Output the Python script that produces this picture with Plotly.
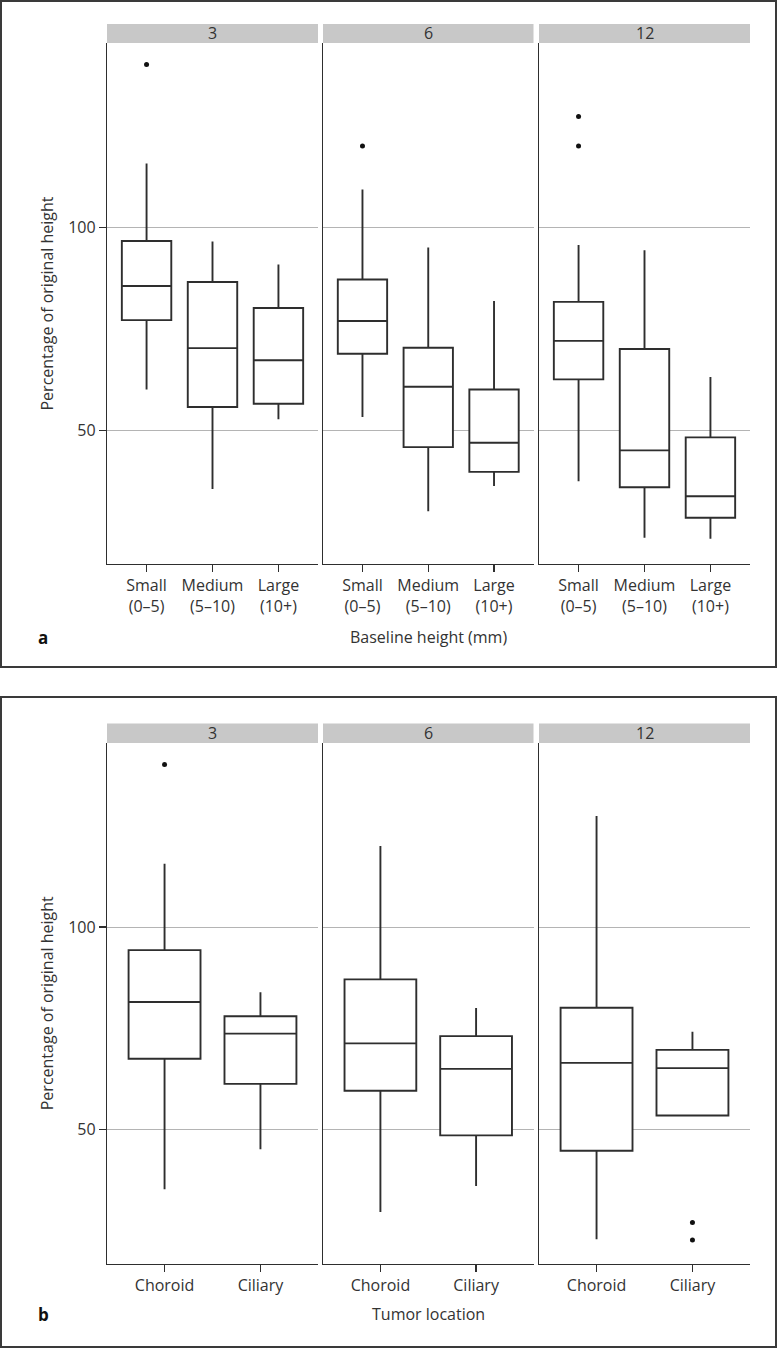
import plotly.graph_objects as go

months = ["3", "6", "12"]
size_cats = ["Small<br>(0–5)", "Medium<br>(5–10)", "Large<br>(10+)"]
loc_cats = ["Choroid", "Ciliary"]

# Panel a (by baseline height) — one inner list per month (3, 6, 12)
a_lower = [[60.0, 35.5, 52.7], [53.2, 30.0, 36.2], [37.4, 23.5, 23.2]]
a_q1 = [[77.1, 55.7, 56.5], [68.8, 45.8, 39.7], [62.5, 35.9, 28.4]]
a_median = [[85.5, 70.2, 67.2], [76.9, 60.7, 46.9], [72.0, 45.0, 33.7]]
a_q3 = [[96.6, 86.5, 80.1], [87.1, 70.3, 60.0], [81.6, 70.0, 48.2]]
a_upper = [[115.7, 96.5, 90.8], [109.3, 95.0, 81.8], [95.6, 94.3, 63.1]]
a_out_x = [[size_cats[0]], [size_cats[0]], [size_cats[0], size_cats[0]]]
a_out_y = [[140.1], [120.0], [127.3, 120.0]]

# Panel b (by tumor location)
b_lower = [[35.3, 45.2], [29.7, 36.1], [23.0, 53.5]]
b_q1 = [[67.5, 61.3], [59.6, 48.6], [44.8, 53.5]]
b_median = [[81.5, 73.7], [71.3, 65.0], [66.5, 65.2]]
b_q3 = [[94.3, 78.0], [87.1, 73.1], [80.1, 69.7]]
b_upper = [[115.6, 83.9], [120.0, 80.0], [127.4, 74.2]]
b_out_x = [[loc_cats[0]], [], [loc_cats[1], loc_cats[1]]]
b_out_y = [[140.1], [], [27.1, 22.8]]

y_ticks = [50, 100]
y_range = [17.0, 145.4]

W, H = 778, 1349
FONT = "Open Sans"
FS = 16
TXT = "#333333"
LINE = "#2e2e2e"


def fx(px):
    return px / W


def fy(px):
    return 1 - px / H


facet_x = [(107, 318), (323, 533.5), (539, 750)]
panel_plot_y = [(43, 564), (743, 1263.5)]
panel_strip_y = [(24, 43), (723.5, 743)]
panel_border = [(1, 1, 776, 667), (1, 697, 776, 1347)]

fig = go.Figure()
layout = dict(
    width=W, height=H, margin=dict(l=0, r=0, t=0, b=0),
    paper_bgcolor="white", plot_bgcolor="white", showlegend=False,
    font=dict(family=FONT, size=FS, color=TXT),
)
shapes = []
annotations = []

panels = [
    (size_cats, a_lower, a_q1, a_median, a_q3, a_upper, a_out_x, a_out_y),
    (loc_cats, b_lower, b_q1, b_median, b_q3, b_upper, b_out_x, b_out_y),
]

for r, (cats, lo, q1, md, q3, up, ox, oy) in enumerate(panels):
    for c, m in enumerate(months):
        idx = r * 3 + c + 1
        xa = "x" if idx == 1 else f"x{idx}"
        ya = "y" if idx == 1 else f"y{idx}"
        fig.add_trace(go.Box(
            x=cats, q1=q1[c], median=md[c], q3=q3[c],
            lowerfence=lo[c], upperfence=up[c],
            boxpoints=False, width=0.75, whiskerwidth=0,
            fillcolor="white", line=dict(color=LINE, width=1.9),
            xaxis=xa, yaxis=ya, hoverinfo="skip",
        ))
        if oy[c]:
            fig.add_trace(go.Scatter(
                x=ox[c], y=oy[c], mode="markers",
                marker=dict(color="#111111", size=5),
                xaxis=xa, yaxis=ya, hoverinfo="skip",
            ))
        x0, x1 = facet_x[c]
        yt, yb = panel_plot_y[r]
        n = len(cats)
        layout[f"xaxis{'' if idx == 1 else idx}"] = dict(
            domain=[fx(x0), fx(x1)], anchor=ya,
            type="category", categoryorder="array", categoryarray=cats,
            range=[-0.6, n - 1 + 0.6],
            showline=True, linecolor=LINE, linewidth=1.2,
            ticks="outside", ticklen=7, tickcolor=LINE, tickwidth=1.2,
            showgrid=False, zeroline=False,
            tickfont=dict(family=FONT, size=FS, color=TXT),
            fixedrange=True,
        )
        layout[f"yaxis{'' if idx == 1 else idx}"] = dict(
            domain=[fy(yb), fy(yt)], anchor=xa,
            range=y_range, tickvals=y_ticks,
            showline=True, linecolor=LINE, linewidth=1.2,
            ticks="outside" if c == 0 else "", ticklen=7, tickcolor=LINE, tickwidth=1.2,
            showticklabels=(c == 0),
            showgrid=True, gridcolor="#b4b4b4", gridwidth=1,
            zeroline=False,
            tickfont=dict(family=FONT, size=FS, color=TXT),
            fixedrange=True,
        )
        # strip
        st, sb = panel_strip_y[r]
        shapes.append(dict(type="rect", xref="paper", yref="paper",
                           x0=fx(x0), x1=fx(x1), y0=fy(sb), y1=fy(st),
                           fillcolor="#c8c8c8", line=dict(width=0), layer="below"))
        annotations.append(dict(text=m, xref="paper", yref="paper",
                                x=fx((x0 + x1) / 2), y=fy((st + sb) / 2),
                                showarrow=False, xanchor="center", yanchor="middle",
                                font=dict(family=FONT, size=FS, color=TXT)))
    # border
    bx0, by0, bx1, by1 = panel_border[r]
    shapes.append(dict(type="rect", xref="paper", yref="paper",
                       x0=fx(bx0), x1=fx(bx1), y0=fy(by1), y1=fy(by0),
                       line=dict(color="#3a3a3a", width=2), fillcolor="rgba(0,0,0,0)"))
    yt, yb = panel_plot_y[r]
    annotations.append(dict(text="Percentage of original height", xref="paper", yref="paper",
                            x=fx(47), y=fy((yt + yb) / 2), textangle=-90,
                            showarrow=False, xanchor="center", yanchor="middle",
                            font=dict(family=FONT, size=FS, color=TXT)))

annotations.append(dict(text="Baseline height (mm)", xref="paper", yref="paper",
                        x=fx(428.5), y=fy(637), showarrow=False,
                        xanchor="center", yanchor="middle",
                        font=dict(family=FONT, size=FS, color=TXT)))
annotations.append(dict(text="Tumor location", xref="paper", yref="paper",
                        x=fx(428.5), y=fy(1314), showarrow=False,
                        xanchor="center", yanchor="middle",
                        font=dict(family=FONT, size=FS, color=TXT)))
annotations.append(dict(text="<b>a</b>", xref="paper", yref="paper",
                        x=fx(43), y=fy(637), showarrow=False,
                        xanchor="center", yanchor="middle",
                        font=dict(family=FONT, size=17, color="#111111")))
annotations.append(dict(text="<b>b</b>", xref="paper", yref="paper",
                        x=fx(43), y=fy(1314), showarrow=False,
                        xanchor="center", yanchor="middle",
                        font=dict(family=FONT, size=17, color="#111111")))

layout["shapes"] = shapes
layout["annotations"] = annotations
fig.update_layout(**layout)
fig.write_html(
    "out.html",
    config={"displayModeBar": False, "staticPlot": True},
    post_script="document.body.style.margin='0';document.body.style.overflow='hidden';",
)
